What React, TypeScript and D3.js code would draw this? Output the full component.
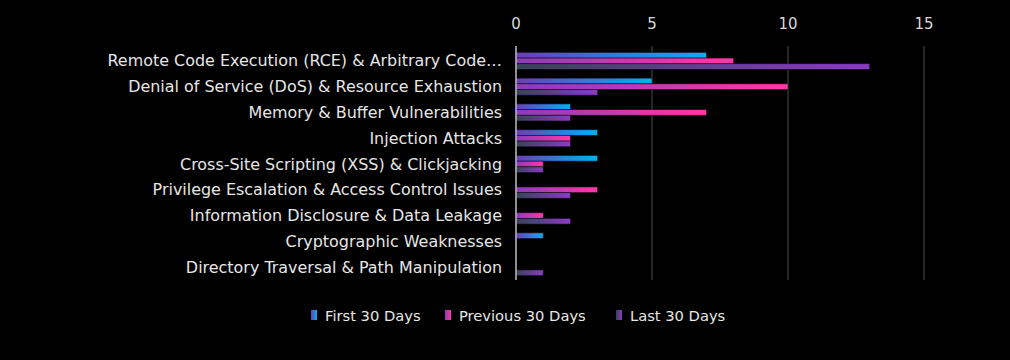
import React from "react";
import * as d3 from "d3";

const categories = [
  "Remote Code Execution (RCE) & Arbitrary Code…",
  "Denial of Service (DoS) & Resource Exhaustion",
  "Memory & Buffer Vulnerabilities",
  "Injection Attacks",
  "Cross-Site Scripting (XSS) & Clickjacking",
  "Privilege Escalation & Access Control Issues",
  "Information Disclosure & Data Leakage",
  "Cryptographic Weaknesses",
  "Directory Traversal & Path Manipulation",
];
const seriesNames = ["First 30 Days", "Previous 30 Days", "Last 30 Days"];
const first30 = [7, 5, 2, 3, 3, 0, 0, 1, 0];
const previous30 = [8, 10, 7, 2, 1, 3, 1, 0, 0];
const last30 = [13, 3, 2, 2, 1, 2, 2, 0, 1];
const xTicks = [0, 5, 10, 15];

const seriesValues = [first30, previous30, last30];
const gradStops = [
  ["#6b3fb3", "#00b2f0"],
  ["#8a3cb8", "#ff38a6"],
  ["#384356", "#8b3bc6"],
];

const FONT = "'DejaVu Sans', sans-serif";

export default function App() {
  const W = 1010, H = 360;
  const x0 = 516, x15 = 924;
  const yTop = 48, yBot = 280;
  const x = d3.scaleLinear().domain([0, 15]).range([x0, x15]);
  const y = d3.scaleBand<string>().domain(categories).range([yTop, yBot]).paddingInner(0.34).paddingOuter(0.17);
  const ys = d3.scaleBand<number>().domain([0, 1, 2]).range([0, y.bandwidth()]);
  const legendX = [311, 445, 616];

  return (
    <svg width={W} height={H} style={{ position: "absolute", left: 0, top: 0, background: "#000" }}>
      <defs>
        {gradStops.map((g, i) => (
          <linearGradient key={i} id={`g${i}`} x1="0" x2="1" y1="0" y2="0">
            <stop offset="0" stopColor={g[0]} />
            <stop offset="1" stopColor={g[1]} />
          </linearGradient>
        ))}
      </defs>
      <rect x={0} y={0} width={W} height={H} fill="#000" />
      {xTicks.map((t) => (
        <g key={t}>
          {t !== 0 && <line x1={x(t)} x2={x(t)} y1={46} y2={yBot} stroke="#3a3a3a" strokeWidth={1.3} />}
          <text x={x(t)} y={29} fill="#d9d9d9" fontSize={15} fontFamily={FONT} textAnchor="middle">{t}</text>
        </g>
      ))}
      {categories.map((c, ci) => (
        <g key={c}>
          <text x={502} y={(y(c) as number) + y.bandwidth() / 2 + 5.5} fill="#e6e6e6" fontSize={15.95} fontFamily={FONT} textAnchor="end">{c}</text>
          {seriesValues.map((vals, si) =>
            vals[ci] > 0 ? (
              <rect key={si} x={x(0)} y={(y(c) as number) + (ys(si) as number)} width={x(vals[ci]) - x(0)} height={ys.bandwidth()}
                fill={`url(#g${si})`} stroke="rgba(20,10,30,0.7)" strokeWidth={0.8} />
            ) : null
          )}
        </g>
      ))}
      <line x1={x(0)} x2={x(0)} y1={46} y2={yBot} stroke="#bfbfbf" strokeWidth={1.5} />
      {seriesNames.map((n, i) => (
        <g key={n}>
          <rect x={legendX[i]} y={310} width={6} height={10} fill={`url(#g${i})`} />
          <text x={legendX[i] + 14} y={321} fill="#e6e6e6" fontSize={14.7} fontFamily={FONT}>{n}</text>
        </g>
      ))}
    </svg>
  );
}
